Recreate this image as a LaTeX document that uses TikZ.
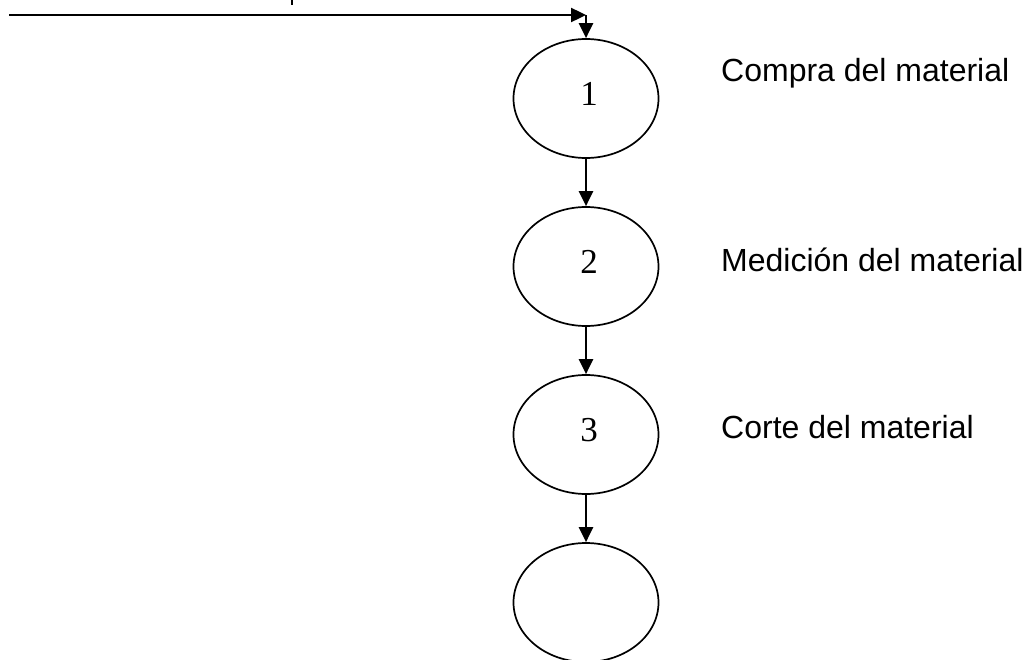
\documentclass[tikz,border=0pt]{standalone}
\usepackage{fontspec}
\setmainfont{Liberation Serif}
\newfontfamily\labelfont{Liberation Sans}
\usetikzlibrary{arrows.meta,shapes.geometric}

\begin{document}
\begin{tikzpicture}[x=1pt,y=-1pt,
  stepnode/.style={ellipse,draw,line width=1.7pt,minimum width=145pt,minimum height=119pt,inner sep=0pt},
  numlabel/.style={font=\fontsize{35}{35}\selectfont,inner sep=0pt},
  desclabel/.style={font=\labelfont\fontsize{32}{32}\selectfont,anchor=base west,inner sep=0pt},
  flow/.style={line width=2.4pt,-{Triangle[length=15pt,width=14pt]}}]
  \useasboundingbox (0,0) rectangle (1036,659);

  % process steps
  \node[stepnode] (e1) at (586,98.5) {};
  \node[stepnode] (e2) at (586,266.5) {};
  \node[stepnode] (e3) at (586,434.5) {};
  \node[stepnode] (e4) at (586,602.5) {};

  \node[numlabel] (n1) at (589,94) {1};
  \node[numlabel] (n2) at (589,262) {2};
  \node[numlabel] (n3) at (589,430) {3};

  % step descriptions
  \node[desclabel] (t1) at (721,81) {Compra del material};
  \node[desclabel] (t2) at (721,271) {Medición del material};
  \node[desclabel] (t3) at (721,438) {Corte del material};

  % incoming flow
  \coordinate (start) at (9,15);
  \coordinate (corner) at (586,15);
  \draw[flow] (start) -- (corner);
  \draw[flow] (corner) -- (e1.north);

  % connections between steps
  \draw[flow] (e1.south) -- (e2.north);
  \draw[flow] (e2.south) -- (e3.north);
  \draw[flow] (e3.south) -- (e4.north);

  % descender of the heading text above
  \coordinate (tickA) at (292,0);
  \coordinate (tickB) at (292,4.5);
  \draw[line width=2.2pt] (tickA) -- (tickB);
\end{tikzpicture}
\end{document}
